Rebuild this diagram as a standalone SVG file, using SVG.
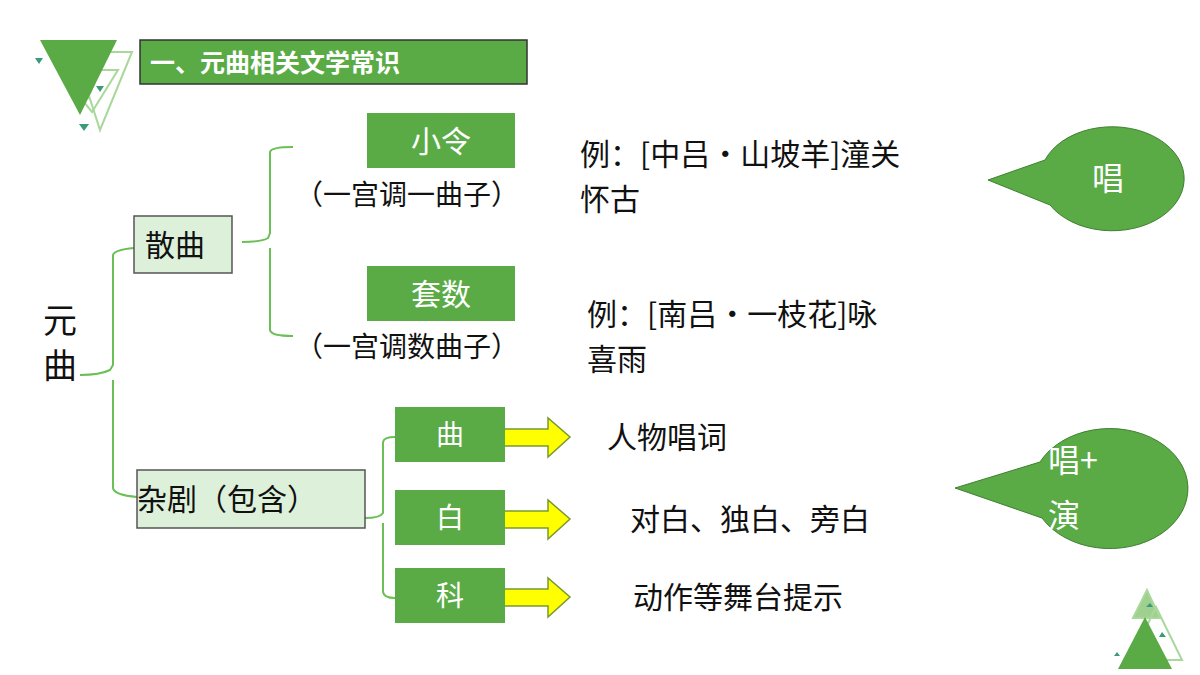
<svg xmlns="http://www.w3.org/2000/svg" width="1200" height="675" viewBox="0 0 1200 675">
<style>
.t{font-family:"Noto Sans CJK SC","Noto Sans",sans-serif;fill:#111}
.w{font-family:"Noto Sans CJK SC","Noto Sans",sans-serif;fill:#fff}
.g{fill:#5aab46}
.lt{fill:#ddf0d9;stroke:#555;stroke-width:1.5}
.c{fill:none;stroke:#6abf55;stroke-width:2}
.ar{fill:#ffff00;stroke:#7a9a30;stroke-width:1.5}
</style>
<rect width="1200" height="675" fill="#fff"/>
<g id="deco-tl">
<polygon points="58,70 118,70 92,112" fill="none" stroke="#a8d89a" stroke-width="2"/>
<polygon points="65,73 100,73 88,100" fill="#9fd08f"/>
<polygon points="75,52 132,52 100,130" fill="none" stroke="#a8d89a" stroke-width="2"/>
<polygon points="40,40 117,40 80,115" fill="#5aab46"/>
<polygon points="35,58 43,58 39,64" fill="#3a9a7a"/>
<polygon points="96,86 104,86 100,92" fill="#3a9a7a"/>
<polygon points="79,124 89,124 84,131" fill="#3a9a7a"/>
</g>
<g id="title"><rect x="140" y="40" width="387" height="44" class="g" stroke="#333" stroke-width="1.5"/>
<text x="150" y="72" class="w" font-size="25" font-weight="bold">一、元曲相关文学常识</text></g>
<g id="connectors">
<path class="c" d="M80,375 Q100,375 110,370 L113,365 V255 Q114,250 134,248"/>
<path class="c" d="M113,380 V488 Q114,495 137,497"/>
<path class="c" d="M242,242 Q262,242 268,238 L270,233 V152 Q271,147 293,147"/>
<path class="c" d="M270,248 V330 Q271,336 293,336"/>
<path class="c" d="M365,518 Q380,518 383,513 V442 Q384,437 395,437"/>
<path class="c" d="M383,523 V592 Q384,598 395,598"/>
<polygon class="ar" points="485,429 548,429 548,418 570,437 548,457 548,446 485,446"/>
<polygon class="ar" points="485,511 548,511 548,500 570,519 548,539 548,528 485,528"/>
<polygon class="ar" points="485,589 548,589 548,578 570,597 548,617 548,606 485,606"/>
</g>
<g id="yuanqu"><text x="43" y="333" class="t" font-size="34">元</text><text x="43" y="378" class="t" font-size="34">曲</text></g>
<g id="sanqu"><rect x="134" y="216" width="98" height="57" class="lt"/><text x="145" y="256" class="t" font-size="30">散曲</text></g>
<g id="zaju"><rect x="137" y="470" width="228" height="58" class="lt"/><text x="137" y="510" class="t" font-size="30">杂剧（包含）</text></g>
<g id="xiaoling"><rect x="367" y="113" width="148" height="55" class="g"/><text x="441" y="152" text-anchor="middle" class="w" font-size="30">小令</text>
<text x="295" y="205" class="t" font-size="28">（一宫调一曲子）</text></g>
<g id="taoshu"><rect x="367" y="266" width="148" height="55" class="g"/><text x="441" y="305" text-anchor="middle" class="w" font-size="30">套数</text>
<text x="295" y="357" class="t" font-size="28">（一宫调数曲子）</text></g>
<g id="qu"><rect x="395" y="407" width="110" height="55" class="g"/><text x="450" y="445" text-anchor="middle" class="w" font-size="28">曲</text></g>
<g id="bai"><rect x="395" y="490" width="110" height="55" class="g"/><text x="450" y="528" text-anchor="middle" class="w" font-size="28">白</text></g>
<g id="ke"><rect x="395" y="568" width="110" height="55" class="g"/><text x="450" y="606" text-anchor="middle" class="w" font-size="28">科</text></g>
<g id="ex1"><text x="580" y="165" class="t" font-size="30">例：[中吕·山坡羊]潼关</text><text x="580" y="210" class="t" font-size="30">怀古</text></g>
<g id="ex2"><text x="587" y="325" class="t" font-size="30">例：[南吕·一枝花]咏</text><text x="587" y="370" class="t" font-size="30">喜雨</text></g>
<g id="d1"><text x="607" y="448" class="t" font-size="30">人物唱词</text></g>
<g id="d2"><text x="630" y="530" class="t" font-size="30">对白、独白、旁白</text></g>
<g id="d3"><text x="633" y="608" class="t" font-size="30">动作等舞台提示</text></g>
<g id="bubble1"><path d="M1045,160 A72,52 0 1 1 1050,205 L988,180 Z" class="g" stroke="#3f7f30" stroke-width="1"/>
<text x="1108" y="190" text-anchor="middle" class="w" font-size="32">唱</text></g>
<g id="bubble2"><path d="M1040,462 A78,60 0 1 1 1042,518 L955,488 Z" class="g" stroke="#3f7f30" stroke-width="1"/>
<text x="1048" y="472" class="w" font-size="32">唱+</text><text x="1048" y="527" class="w" font-size="32">演</text></g>
<g id="deco-br">
<polygon points="1134,618 1160,618 1147,590 1120,650" fill="none"/>
<polygon points="1133,618 1147,590 1160,618" fill="#9fd08f" stroke="#a8d89a" stroke-width="2"/>
<polygon points="1156,607 1182,660 1130,660" fill="none" stroke="#a8d89a" stroke-width="2"/>
<polygon points="1145,617 1172,669 1118,669" fill="#5aab46"/>
<polygon points="1146,607 1153,607 1150,603" fill="#3a9a7a"/>
<polygon points="1159,637 1166,637 1162,632" fill="#3a9a7a"/>
<polygon points="1114,656 1120,656 1117,652" fill="#3a9a7a"/>
</g>
</svg>
